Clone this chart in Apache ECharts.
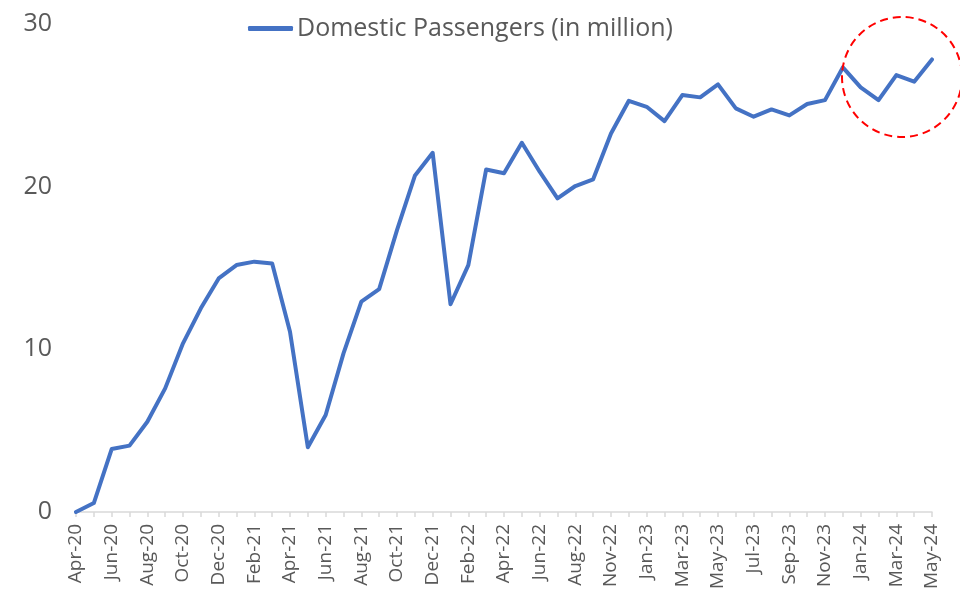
<!DOCTYPE html>
<html>
<head>
<meta charset="utf-8">
<script src="https://cdn.jsdelivr.net/npm/echarts@6/dist/echarts.min.js"></script>
<style>
  html, body { margin: 0; padding: 0; background: #ffffff; }
  #chart { width: 960px; height: 594px; }
</style>
</head>
<body>
<div id="chart"></div>
<script>
// Monthly domestic passengers, Apr-20 to May-24 (in million)
const months = [
  'Apr-20','May-20','Jun-20','Jul-20','Aug-20','Sep-20','Oct-20','Nov-20','Dec-20',
  'Jan-21','Feb-21','Mar-21','Apr-21','May-21','Jun-21','Jul-21','Aug-21','Sep-21',
  'Oct-21','Nov-21','Dec-21','Jan-22','Feb-22','Mar-22','Apr-22','May-22','Jun-22',
  'Jul-22','Aug-22','Oct-22','Nov-22','Dec-22','Jan-23','Feb-23','Mar-23','Apr-23',
  'May-23','Jun-23','Jul-23','Aug-23','Sep-23','Oct-23','Nov-23','Dec-23','Jan-24',
  'Feb-24','Mar-24','Apr-24','May-24'
];
const passengers = [
  0.0, 0.55, 3.87, 4.08, 5.55, 7.6, 10.37, 12.52, 14.36,
  15.18, 15.39, 15.28, 11.08, 3.98, 5.96, 9.75, 12.93, 13.7,
  17.33, 20.67, 22.08, 12.77, 15.18, 21.06, 20.82, 22.7, 20.92,
  19.28, 20.04, 20.45, 23.27, 25.28, 24.91, 24.03, 25.63, 25.49,
  26.29, 24.81, 24.3, 24.75, 24.38, 25.08, 25.32, 27.33, 26.1,
  25.32, 26.86, 26.45, 27.82
];
const yTicks = { min: 0, max: 30, step: 10 };
const seriesName = 'Domestic Passengers (in million)';

const textColor = '#595959';
const fontFamily = '"Open Sans", Lato, sans-serif';

const chart = echarts.init(document.getElementById('chart'), null, { renderer: 'canvas' });

chart.setOption({
  animation: false,
  backgroundColor: '#ffffff',
  textStyle: { fontFamily: fontFamily, color: textColor },
  grid: { left: 76, right: 28, top: 24, bottom: 82, containLabel: false },
  legend: {
    data: [seriesName],
    left: 248,
    top: 16,
    padding: 0,
    icon: 'roundRect',
    itemWidth: 45,
    itemHeight: 5,
    textStyle: { fontFamily: fontFamily, fontSize: 25, color: textColor, padding: [0, 0, 0, -1] }
  },
  xAxis: {
    type: 'category',
    data: months,
    boundaryGap: false,
    axisLine: { show: true, lineStyle: { color: '#d9d9d9', width: 1.5 } },
    axisTick: { show: true, alignWithLabel: true, interval: 0, length: 5, lineStyle: { color: '#d9d9d9', width: 1.5 } },
    axisLabel: {
      interval: 1,
      rotate: 90,
      margin: 12,
      fontSize: 19,
      color: textColor,
      fontFamily: fontFamily
    },
    splitLine: { show: false }
  },
  yAxis: {
    type: 'value',
    min: yTicks.min,
    max: yTicks.max,
    interval: yTicks.step,
    axisLine: { show: false },
    axisTick: { show: false },
    splitLine: { show: false },
    axisLabel: { fontSize: 25, color: textColor, margin: 24, fontFamily: fontFamily }
  },
  series: [{
    name: seriesName,
    type: 'line',
    data: passengers,
    showSymbol: false,
    symbol: 'none',
    itemStyle: { color: '#4472C4' },
    lineStyle: { color: '#4472C4', width: 4, join: 'round', cap: 'round' }
  }],
  graphic: [{
    type: 'circle',
    shape: { cx: 902, cy: 77, r: 60 },
    style: { fill: 'none', stroke: '#ff0000', lineWidth: 2, lineDash: [8, 5] },
    z: 100
  }]
});
</script>
</body>
</html>
